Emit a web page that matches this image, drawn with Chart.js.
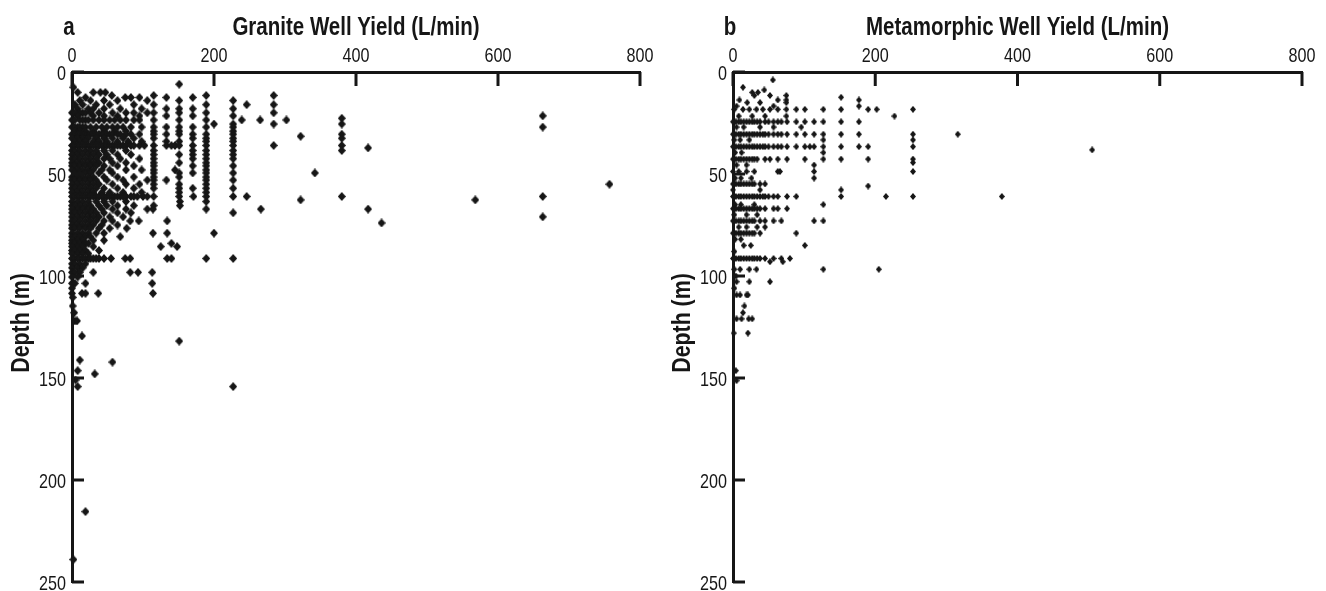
<!DOCTYPE html>
<html>
<head>
<meta charset="utf-8">
<script src="https://cdn.jsdelivr.net/npm/chart.js@4"></script>
<style>
  html, body { margin: 0; padding: 0; background: #fff; }
  #wrap { position: relative; width: 1326px; height: 591px; }
  #left { position: absolute; left: 0; top: 0; }
  #right { position: absolute; left: 661px; top: 0; }
</style>
</head>
<body>
<div id="wrap">
  <canvas id="left" width="661" height="591"></canvas>
  <canvas id="right" width="665" height="591"></canvas>
</div>
<script>
/* ── DATA ── */
var yieldTicks = [0, 200, 400, 600, 800];
var depthTicks = [0, 50, 100, 150, 200, 250];

// granite wells, grouped by depth (m) -> yields (L/min)
var graniteDepths = [6, 7.5, 10, 11.5, 12.5, 14, 16, 18, 20, 21.5, 22.7, 23.5, 25.5, 27, 29, 30.5, 31.5, 32.5, 34, 36,
  37.2, 38.5, 40.5, 42.5, 44.5, 46, 48, 49.5, 51.5, 53, 55, 57, 59, 61, 62.7, 63.5, 65.5, 67.2, 69, 71,
  73, 74, 75, 76.6, 79, 80.7, 82.5, 84, 85.6, 87.5, 89, 91.4, 94, 96, 98.2, 100.5, 103.6, 106, 108.5, 110.5,
  114.7, 118, 122, 129.4, 131.9, 141.2, 142.2, 146.4, 148, 151, 154.2, 215.5, 239];
var graniteYields = [
  [151], [2], [8, 30, 40, 47], [56, 115, 189, 284], [19, 75, 83, 95, 133, 170],
  [11, 26, 45, 64, 106, 151, 227], [4, 15, 34, 53, 87, 115, 189, 246, 284],
  [8, 23, 30, 45, 68, 98, 133, 151, 170, 227],
  [0, 4, 11, 15, 19, 26, 38, 57, 76, 87, 106, 115, 151, 189, 284],
  [8, 30, 45, 64, 95, 133, 170, 227, 663], [380],
  [0, 4, 11, 15, 19, 23, 30, 38, 45, 53, 60, 68, 76, 87, 95, 115, 151, 189, 239, 265, 302],
  [200, 227, 284, 380],
  [0, 4, 8, 11, 15, 19, 26, 34, 42, 49, 57, 64, 72, 83, 98, 115, 133, 151, 170, 189, 227, 663],
  [4, 11, 19, 30, 45, 60, 76, 115, 151, 227],
  [0, 4, 8, 11, 15, 19, 23, 26, 30, 34, 38, 42, 45, 49, 53, 57, 64, 68, 76, 83, 95, 115, 133, 151, 170, 189, 227, 380],
  [322],
  [0, 8, 15, 23, 34, 45, 57, 72, 87, 115, 170, 189, 227, 380],
  [4, 11, 19, 30, 38, 49, 64, 79, 98, 133, 151, 189, 227],
  [0, 4, 8, 11, 15, 19, 23, 26, 30, 34, 38, 42, 45, 49, 53, 57, 60, 64, 68, 72, 76, 83, 87, 95, 102, 115, 133, 140, 145, 151, 170, 189, 227, 284, 380],
  [417],
  [0, 4, 11, 19, 26, 34, 45, 57, 76, 115, 170, 189, 227, 380],
  [0, 8, 15, 23, 30, 38, 49, 64, 83, 115, 151, 170, 189, 227],
  [0, 4, 11, 19, 26, 34, 45, 53, 68, 95, 115, 170, 189, 227],
  [0, 8, 15, 23, 30, 38, 57, 76, 115, 151, 189],
  [0, 4, 11, 19, 26, 34, 45, 64, 87, 115, 170, 189, 227],
  [0, 8, 15, 23, 30, 42, 53, 76, 98, 115, 145, 189],
  [4, 11, 19, 26, 38, 57, 115, 151, 170, 189, 227, 342],
  [0, 8, 15, 23, 30, 45, 64, 87, 115, 151, 189],
  [0, 4, 11, 19, 26, 34, 49, 72, 106, 115, 133, 189, 227],
  [0, 8, 15, 23, 30, 38, 57, 76, 95, 115, 151, 189, 757],
  [0, 4, 11, 19, 26, 34, 45, 64, 87, 115, 151, 170, 189, 227],
  [0, 8, 15, 23, 30, 42, 53, 72, 98, 151, 189],
  [0, 4, 8, 11, 15, 19, 23, 26, 30, 34, 38, 42, 45, 49, 53, 57, 60, 64, 68, 72, 76, 83, 87, 92, 100, 106, 115, 151, 171, 189, 227, 246, 380, 663],
  [322, 568],
  [0, 8, 15, 23, 34, 45, 57, 76, 152, 189],
  [0, 4, 11, 19, 26, 38, 49, 64, 87, 115, 152],
  [0, 8, 15, 23, 30, 42, 57, 76, 106, 114, 189, 266, 417],
  [0, 4, 11, 19, 26, 34, 45, 64, 83, 227],
  [0, 8, 15, 23, 30, 38, 53, 72, 663],
  [0, 4, 11, 19, 26, 34, 45, 57, 82, 94, 134],
  [436],
  [0, 8, 15, 23, 30, 42, 64],
  [0, 4, 11, 19, 26, 38, 53, 77],
  [0, 8, 15, 23, 34, 45, 114, 134, 200],
  [0, 4, 11, 19, 26, 68],
  [0, 8, 15, 30, 45],
  [0, 4, 11, 19, 23, 140],
  [0, 8, 15, 30, 125, 148],
  [0, 4, 11, 19, 38],
  [0, 8, 15, 23],
  [0, 4, 8, 11, 15, 19, 23, 26, 30, 34, 38, 45, 55, 75, 82, 134, 140, 189, 227],
  [0, 4, 11, 19], [0, 8, 15],
  [0, 4, 11, 30, 82, 93, 113],
  [0, 8], [0, 4, 19, 113], [0], [0, 14, 19, 37, 114], [1],
  [1], [3], [4, 7], [14], [151], [11], [57], [8], [32], [5], [8, 227], [19], [2]
];

// metamorphic wells, grouped by depth (m) -> yields (L/min)
var metaDepths = [3.9, 7.5, 8.8, 10, 11.5, 12.4, 13.7, 15, 16.7, 18.3, 21.6, 24.4, 27, 30.5, 33.3, 36.6, 38.2, 39.5,
  42.7, 44.4, 45.6, 48.8, 52, 54.9, 55.9, 57.8, 61, 65, 67, 70, 73, 76, 79, 82, 85, 88, 91.4, 93, 96.7,
  100, 102.8, 106, 109.3, 114.7, 118, 121, 128, 146.4, 151.3];
var metaYields = [
  [56], [14], [44], [27, 35], [30, 52, 75], [152], [9, 63, 75, 177], [20, 38, 75], [5, 57, 177],
  [2, 14, 23, 33, 42, 52, 63, 75, 89, 101, 127, 152, 190, 202, 253],
  [8, 27, 45, 75, 227],
  [0, 4, 8, 11, 15, 19, 23, 27, 30, 34, 38, 45, 50, 57, 63, 68, 76, 89, 101, 114, 127, 152, 177],
  [5, 15, 38, 57, 96],
  [0, 4, 8, 11, 15, 19, 23, 27, 30, 34, 38, 42, 45, 50, 57, 63, 68, 76, 89, 101, 114, 127, 152, 177, 253, 316],
  [2, 10, 23, 127, 253],
  [0, 4, 8, 11, 15, 19, 23, 27, 30, 34, 38, 42, 45, 50, 57, 63, 68, 76, 89, 101, 108, 114, 127, 152, 177, 190, 253],
  [505],
  [3, 12, 127],
  [0, 4, 8, 11, 15, 19, 23, 27, 30, 34, 45, 52, 63, 76, 101, 127, 152, 190, 253],
  [253],
  [5, 19, 114],
  [0, 8, 19, 30, 63, 66, 114, 253],
  [3, 11, 26, 114],
  [0, 4, 8, 11, 15, 19, 23, 27, 30, 38, 45],
  [190],
  [0, 38, 152],
  [0, 4, 8, 11, 15, 19, 23, 27, 30, 34, 38, 42, 45, 50, 57, 63, 76, 89, 152, 215, 253, 378],
  [3, 11, 30, 127],
  [0, 4, 8, 11, 15, 19, 23, 27, 30, 34, 38, 45, 57, 63, 76],
  [2, 19, 34],
  [0, 4, 8, 11, 15, 19, 23, 27, 30, 38, 45, 57, 68, 114, 127],
  [8, 19, 34, 45],
  [0, 4, 8, 11, 15, 19, 23, 27, 30, 38, 89],
  [3, 11], [15, 25, 101], [2],
  [0, 4, 8, 11, 15, 19, 23, 27, 30, 34, 38, 45, 57, 68, 80],
  [52, 70],
  [2, 10, 23, 33, 127, 205],
  [4], [5, 23, 52], [2], [5, 10, 19, 21], [16], [14], [5, 12, 22, 27], [1, 21], [4], [5]
];

/* ── HELPERS ── */
// no narrow face installed: Liberation Sans squeezed horizontally stands in for it
var FONT = "'Liberation Sans', Arial, sans-serif";
var INK = '#161616';

function toPoints(depths, yields) {
  var pts = [];
  depths.forEach(function (d, i) {
    yields[i].forEach(function (y) { pts.push({ x: y, y: d }); });
  });
  return pts;
}

function diamond(w, h) {
  var c = document.createElement('canvas');
  c.width = w; c.height = h;
  var g = c.getContext('2d');
  g.fillStyle = INK;
  g.beginPath();
  g.moveTo(w / 2, 0);
  g.lineTo(w, h / 2);
  g.lineTo(w / 2, h);
  g.lineTo(0, h / 2);
  g.closePath();
  g.fill();
  return c;
}

function narrowText(ctx, text, x, y, squeeze, rot) {
  ctx.save();
  ctx.translate(x, y);
  if (rot) ctx.rotate(rot);
  ctx.scale(squeeze, 1);
  ctx.fillText(text, 0, 0);
  ctx.restore();
}

// inward tick marks, tick labels, titles, panel letter
var panelDeco = {
  id: 'panelDeco',
  afterDraw: function (chart, args, opts) {
    var ctx = chart.ctx, xs = chart.scales.x, ys = chart.scales.y, a = chart.chartArea;
    ctx.save();
    ctx.strokeStyle = INK;
    ctx.lineWidth = 3;
    ctx.beginPath();
    xs.ticks.forEach(function (t) {
      var px = xs.getPixelForValue(t.value);
      ctx.moveTo(px, a.top);
      ctx.lineTo(px, a.top + 14);
    });
    ys.ticks.forEach(function (t) {
      var py = ys.getPixelForValue(t.value);
      ctx.moveTo(a.left, py);
      ctx.lineTo(a.left + 12, py);
    });
    ctx.stroke();

    ctx.fillStyle = INK;
    ctx.textBaseline = 'alphabetic';
    ctx.font = '21px ' + FONT;
    ctx.textAlign = 'center';
    xs.ticks.forEach(function (t) {
      narrowText(ctx, String(t.value), xs.getPixelForValue(t.value), a.top - 10, 0.77);
    });
    ctx.textAlign = 'right';
    ys.ticks.forEach(function (t) {
      narrowText(ctx, String(t.value), a.left - 6, ys.getPixelForValue(t.value) + 7.5, 0.77);
    });

    ctx.font = 'bold 25px ' + FONT;
    ctx.textAlign = 'center';
    narrowText(ctx, opts.title, (a.left + a.right) / 2, 35, 0.82);
    narrowText(ctx, opts.letter, a.left - 3, 35, 0.82);
    ctx.font = 'bold 26px ' + FONT;
    narrowText(ctx, 'Depth (m)', a.left - 43, (a.top + a.bottom) / 2 - 4, 0.82, -Math.PI / 2);
    ctx.restore();
  }
};

function makePanel(id, title, letter, depths, yields, marker, rightPad) {
  return new Chart(document.getElementById(id), {
    type: 'scatter',
    data: {
      datasets: [{
        data: toPoints(depths, yields),
        pointStyle: marker,
        pointRadius: 4,
        pointHoverRadius: 4,
        backgroundColor: INK,
        borderWidth: 0,
        clip: false
      }]
    },
    options: {
      responsive: false,
      animation: false,
      events: [],
      layout: { padding: { top: 0, left: 0, right: rightPad, bottom: 9 } },
      plugins: {
        legend: { display: false },
        tooltip: { enabled: false },
        panelDeco: { letter: letter, title: title }
      },
      scales: {
        x: {
          type: 'linear',
          position: 'top',
          min: 0, max: 800,
          afterBuildTicks: function (s) { s.ticks = yieldTicks.map(function (v) { return { value: v }; }); },
          afterFit: function (s) { s.height = 72; s.paddingLeft = 0; s.paddingRight = 0; },
          grid: { display: false, drawTicks: false },
          border: { display: true, width: 3, color: INK },
          ticks: { display: false }
        },
        y: {
          type: 'linear',
          position: 'left',
          reverse: true,
          min: 0, max: 250,
          afterBuildTicks: function (s) { s.ticks = depthTicks.map(function (v) { return { value: v }; }); },
          afterFit: function (s) { s.width = 72; s.paddingTop = 0; s.paddingBottom = 0; },
          grid: { display: false, drawTicks: false },
          border: { display: true, width: 3, color: INK },
          ticks: { display: false }
        }
      }
    },
    plugins: [panelDeco]
  });
}

makePanel('left', 'Granite Well Yield (L/min)', 'a', graniteDepths, graniteYields, diamond(8, 9), 21);
makePanel('right', 'Metamorphic Well Yield (L/min)', 'b', metaDepths, metaYields, diamond(6, 7), 24);
</script>
</body>
</html>
